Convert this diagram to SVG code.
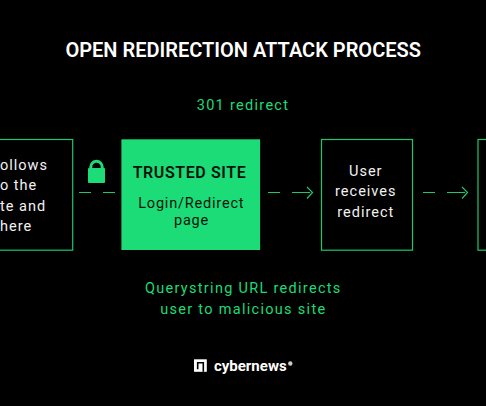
<svg xmlns="http://www.w3.org/2000/svg" width="486" height="406" viewBox="0 0 486 406">
<style>
text{font-family:Roboto,"Liberation Sans",sans-serif;text-anchor:middle}
.t{font-size:14.5px;letter-spacing:1px;fill:#f2f2f2}
.l{text-anchor:start}
.d{font-size:14.500px;letter-spacing:.8px;fill:#04140a}
.g{font-size:14.500px;letter-spacing:1.3px;fill:#1bdc77}
.box{fill:#000;stroke:#1bc76c;stroke-width:1.2}
.c{fill:none;stroke:#1bc76c;stroke-width:1.2}
</style>
<rect width="486" height="406" fill="#000"/>
<text x="243.200" y="56.800" style="font-size:20px;font-weight:600;fill:#fff">OPEN REDIRECTION ATTACK PROCESS</text>
<text x="243" y="110" class="g">301 redirect</text>
<g id="node-user-follows">
<rect class="box" x="-20" y="139.500" width="92.700" height="110.700"/>
<text class="t l" x="0" y="170">ollows</text>
<text class="t l" x="0" y="190">o the</text>
<text class="t l" x="0" y="211">te and</text>
<text class="t l" x="0" y="231">here</text>
</g>
<g id="node-lock">
<path d="M90.800 170v-3a5.700 5.700 0 0 1 11.400 0v3" fill="none" stroke="#1bdc77" stroke-width="3"/>
<rect x="88" y="168" width="17" height="15" rx="1" fill="#1bdc77"/>
</g>
<g id="node-trusted">
<rect x="121.400" y="139.300" width="138.700" height="110.700" fill="#1bdc77"/>
<text x="189.500" y="177.700" style="font-size:16px;font-weight:600;letter-spacing:.6px;fill:#04140a">TRUSTED SITE</text>
<text class="d" x="191.300" y="207.500">Login/Redirect</text>
<text class="d" x="191.500" y="225">page</text>
</g>
<g id="node-receives">
<rect class="box" x="321.500" y="139.500" width="91" height="110.700"/>
<text class="t" x="365.800" y="175.800">User</text>
<text class="t" x="365.800" y="196">receives</text>
<text class="t" x="365.800" y="216.600">redirect</text>
</g>
<g id="node-next">
<rect class="box" x="478" y="139.500" width="30" height="110.700"/>
</g>
<g id="connectors">
<path class="c" d="M79 192.500h12M103 192.500h12"/>
<path class="c" d="M268 192.500h12M292 192.500h18M307 187l5.500 5.500-5.500 6"/>
<path class="c" d="M423 192.500h12M447 192.500h18M462 187l5.500 5.500-5.500 6"/>
</g>
<text class="g" x="243.300" y="293">Querystring URL redirects</text>
<text class="g" x="243.300" y="314">user to malicious site</text>
<g id="logo">
<rect x="194" y="359.300" width="12.800" height="12.500" fill="#fff"/>
<path d="M197.700 369.300v-6.500h5.600v9" fill="none" stroke="#000" stroke-width="1.600"/>
<text x="250.300" y="370.500" style="font-size:15px;font-weight:700;fill:#fff">cybernews</text>
<circle cx="290.300" cy="363.500" r="2.200" fill="#ccc"/>
</g>
</svg>
